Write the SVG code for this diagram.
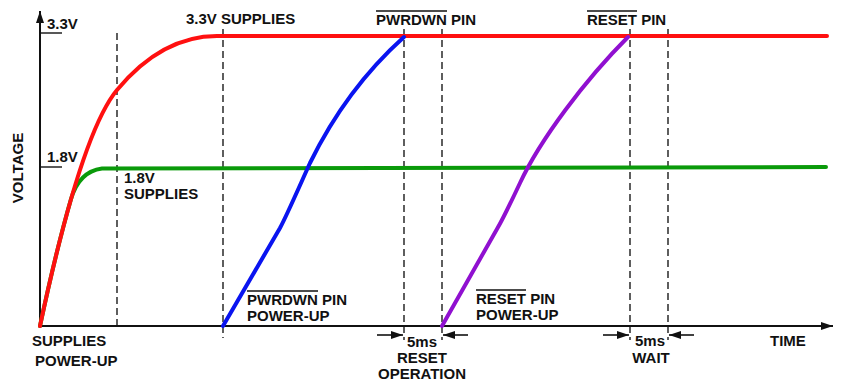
<svg xmlns="http://www.w3.org/2000/svg" width="841" height="385" viewBox="0 0 841 385">
<style>
text{font-family:"Liberation Sans",Arial,sans-serif;font-weight:bold;font-size:15px;fill:#111}
.mid{text-anchor:middle}
.dash{stroke:#1a1a1a;stroke-width:1.4;stroke-dasharray:7,4;fill:none}
.ax{stroke:#111;stroke-width:2;fill:none}
.ol{stroke:#111;stroke-width:1.4}
.arr{stroke:#111;stroke-width:1.6;fill:none}
.crv{fill:none;stroke-width:4;stroke-linejoin:round;stroke-linecap:round}
</style>
<defs>
<marker id="ah" viewBox="0 0 12 8" refX="12" refY="4" markerWidth="12" markerHeight="8" markerUnits="userSpaceOnUse" orient="auto"><path d="M0,0 L12,4 L0,8 Z" fill="#111"/></marker>
</defs>
<rect width="841" height="385" fill="#fff"/>
<g id="grid">
<line class="dash" x1="117" y1="33" x2="117" y2="326"/>
<line class="dash" x1="223" y1="29" x2="223" y2="338"/>
<line class="dash" x1="404" y1="29" x2="404" y2="340"/>
<line class="dash" x1="442" y1="29" x2="442" y2="340"/>
<line class="dash" x1="630" y1="29" x2="630" y2="340"/>
<line class="dash" x1="668" y1="29" x2="668" y2="340"/>
</g>
<g id="axes">
<line class="ax" x1="40" y1="326" x2="40" y2="11" marker-end="url(#ah)"/>
<line class="ax" x1="40" y1="326" x2="833" y2="326" marker-end="url(#ah)"/>
<line class="ol" x1="40" y1="33" x2="62" y2="33"/>
<line class="ol" x1="40" y1="167" x2="62" y2="167"/>
<text x="47" y="29">3.3V</text>
<text x="47" y="162">1.8V</text>
<text class="mid" transform="translate(23,168) rotate(-90)">VOLTAGE</text>
<text x="770" y="346">TIME</text>
</g>
<g id="curve-1v8">
<path class="crv" stroke="#0a9a0a" d="M40,326 C50.28,277.76 60.54,235.28 70.8,199.7 C75,185 83,171 102,168.5 L826,167"/>
</g>
<g id="curve-3v3">
<path class="crv" stroke="#ff1010" d="M40,326 C65.7,205.4 91.3,120.8 117,90 C150.3,50 183.7,36 217,36 L827,36"/>
</g>
<g id="curve-pwrdwn">
<path class="crv" stroke="#0a14f0" d="M223,326 L280,228 C287,215 300,185 310,163 C335,112 365,72 404,37"/>
</g>
<g id="curve-reset">
<path class="crv" stroke="#9010d0" stroke-width="3.5" d="M442,326 L497,229 C503,219 512,200 520,183 C540,140 585,80 628,37"/>
</g>
<g id="label-3v3-supplies"><text x="186" y="24">3.3V SUPPLIES</text></g>
<g id="label-pwrdwn-pin">
<text x="376" y="25">PWRDWN PIN</text>
<line class="ol" x1="376" y1="11" x2="447" y2="11"/>
</g>
<g id="label-reset-pin">
<text x="587" y="25">RESET PIN</text>
<line class="ol" x1="587" y1="11" x2="637" y2="11"/>
</g>
<g id="label-1v8-supplies">
<text x="124" y="183">1.8V</text>
<text x="124" y="199">SUPPLIES</text>
</g>
<g id="label-supplies-powerup">
<text x="32" y="346">SUPPLIES</text>
<text x="35" y="366">POWER-UP</text>
</g>
<g id="label-pwrdwn-powerup">
<text x="247" y="305">PWRDWN PIN</text>
<line class="ol" x1="247" y1="291" x2="318" y2="291"/>
<text x="247" y="321">POWER-UP</text>
</g>
<g id="label-reset-powerup">
<text x="476" y="304">RESET PIN</text>
<line class="ol" x1="476" y1="290" x2="526" y2="290"/>
<text x="476" y="320">POWER-UP</text>
</g>
<g id="label-reset-operation">
<text class="mid" x="422" y="347">5ms</text>
<text class="mid" x="422" y="363">RESET</text>
<text class="mid" x="422" y="379">OPERATION</text>
</g>
<g id="label-wait">
<text class="mid" x="650" y="346">5ms</text>
<text class="mid" x="651" y="363">WAIT</text>
</g>
<g id="connectors">
<line class="arr" x1="377" y1="335" x2="403" y2="335" marker-end="url(#ah)"/>
<line class="arr" x1="468" y1="335" x2="443" y2="335" marker-end="url(#ah)"/>
<line class="arr" x1="603" y1="335" x2="629" y2="335" marker-end="url(#ah)"/>
<line class="arr" x1="694" y1="335" x2="669" y2="335" marker-end="url(#ah)"/>
</g>
</svg>
